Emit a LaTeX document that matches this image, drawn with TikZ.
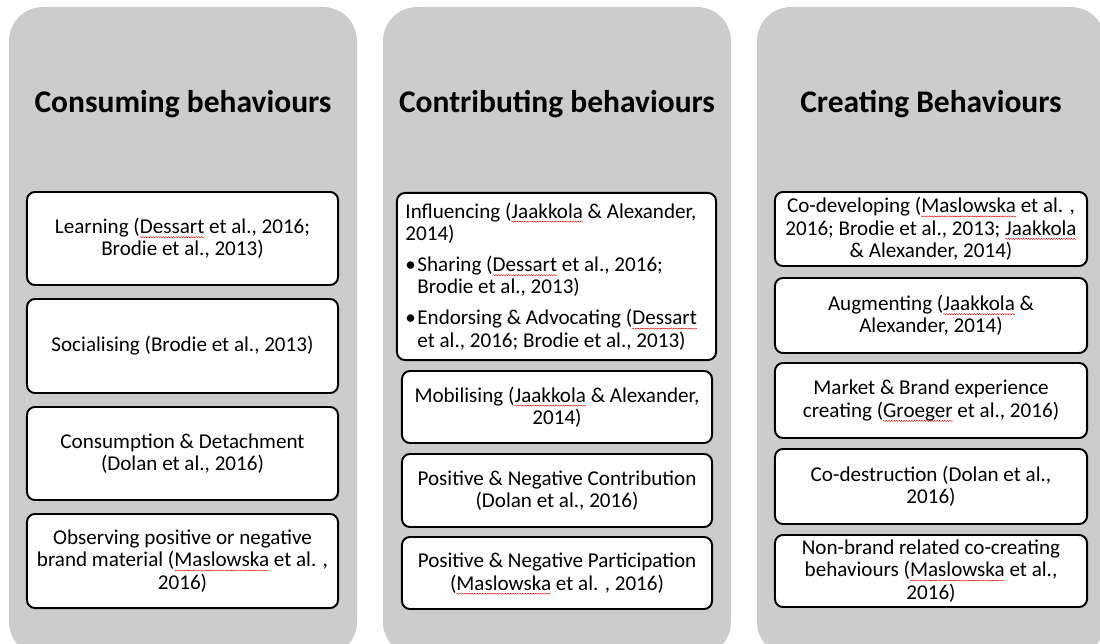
\documentclass[tikz,border=0pt]{standalone}
\usepackage{fontspec}
\setmainfont{Carlito}
\usepackage{xcolor}
\usetikzlibrary{decorations.pathmorphing}

% red wavy line under words the spell checker flagged
\newsavebox\splbox
\newcommand\spl[1]{\sbox\splbox{#1}\rlap{\tikz[overlay]\draw[red!85!black,line width=0.3pt,sharp corners,decorate,
    decoration={snake,amplitude=0.4pt,segment length=1.8pt}] (0pt,-2.6pt) -- (\the\wd\splbox,-2.6pt);}\usebox\splbox}

\begin{document}
\begin{tikzpicture}[line cap=round,line join=round,x=0.025cm,y=-0.025cm,
    panel/.style={fill=black!20,draw=none,rounded corners=0.85cm},
    heading/.style={anchor=base,font=\fontsize{22.4}{26}\selectfont\bfseries},
    item/.style={draw,line width=1.4pt,fill=white,rounded corners=0.2cm,align=center,
      inner sep=2pt,font=\fontsize{15}{16}\selectfont}]
			\useasboundingbox (0,0) rectangle (1100,644);
			\clip (0,0) rectangle (1100,644);
			% the three columns
			\fill [panel] (9,7) rectangle (357,656);
			\fill [panel] (383,7) rectangle (731,656);
			\fill [panel] (757,7) rectangle (1105,656);
			\node [heading] (consume) at (183,112) {Consuming behaviours};
			\node [heading] (contrib) at (557,112) {Contributing behaviours};
			\node [heading] (create) at (931,112) {Creating Behaviours};
			% consuming
			\node [item,minimum width=7.775cm,minimum height=2.325cm] (learn) at (182.5,238.5) {Learning (\spl{Dessart} et al., 2016;\\Brodie et al., 2013)};
			\node [item,minimum width=7.775cm,minimum height=2.35cm] (social) at (182.5,346) {Socialising (Brodie et al., 2013)};
			\node [item,minimum width=7.775cm,minimum height=2.325cm] (consumption) at (182.5,453.5) {Consumption \& Detachment\\(Dolan et al., 2016)};
			\node [item,minimum width=7.775cm,minimum height=2.35cm] (observe) at (182.5,561) {Observing positive or negative\\brand material (\spl{Maslowska} et al. ,\\2016)};
			% contributing
			\node [item,align=flush left,text width=7.55cm,inner xsep=0.2125cm,minimum height=4.175cm] (influence) at (556.5,276.5) {Influencing (\spl{Jaakkola} \& Alexander,\\2014)\\[6pt]
				\makebox[8.5pt][l]{\textbullet}Sharing (\spl{Dessart} et al., 2016;\\\hspace*{8.5pt}Brodie et al., 2013)\\[6pt]
				\makebox[8.5pt][l]{\textbullet}Endorsing \& Advocating (\spl{Dessart}\\\hspace*{8.5pt}et al., 2016; Brodie et al., 2013)};
			\node [item,minimum width=7.75cm,minimum height=1.8cm] (mobilise) at (557,407) {Mobilising (\spl{Jaakkola} \& Alexander,\\2014)};
			\node [item,minimum width=7.75cm,minimum height=1.825cm] (contribution) at (557,490.5) {Positive \& Negative Contribution\\(Dolan et al., 2016)};
			\node [item,minimum width=7.75cm,minimum height=1.8cm] (participation) at (557,573) {Positive \& Negative Participation\\(\spl{Maslowska} et al. , 2016)};
			% creating
			\node [item,minimum width=7.8cm,minimum height=1.85cm] (codevelop) at (931,229) {Co-developing (\spl{Maslowska} et al. ,\\2016; Brodie et al., 2013; \spl{Jaakkola}\\\& Alexander, 2014)};
			\node [item,minimum width=7.8cm,minimum height=1.875cm] (augment) at (931,315.5) {Augmenting (\spl{Jaakkola} \&\\Alexander, 2014)};
			\node [item,minimum width=7.8cm,minimum height=1.875cm] (market) at (931,400.5) {Market \& Brand experience\\creating (\spl{Groeger} et al., 2016)};
			\node [item,minimum width=7.8cm,minimum height=1.875cm] (codestroy) at (931,486.5) {Co-destruction (Dolan et al.,\\2016)};
			\node [item,minimum width=7.8cm,minimum height=1.8cm] (nonbrand) at (931,571) {Non-brand related co-creating\\behaviours (\spl{Maslowska} et al.,\\2016)};
\end{tikzpicture}
\end{document}
